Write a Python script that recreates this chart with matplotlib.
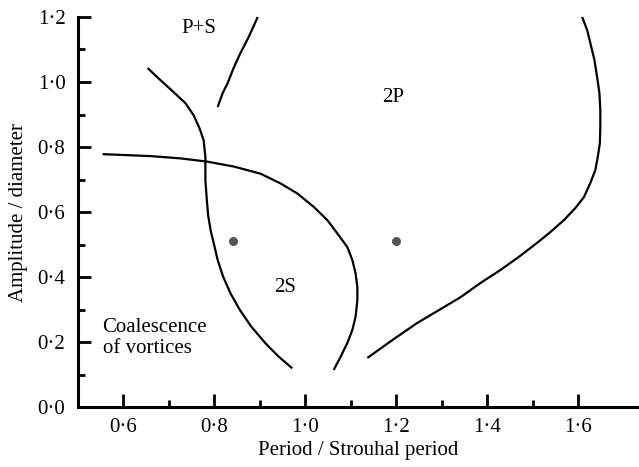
import matplotlib
matplotlib.use("Agg")
import matplotlib.pyplot as plt
from matplotlib.ticker import FixedLocator, FuncFormatter

plt.rcParams['font.family'] = ['Liberation Serif', 'DejaVu Serif']

# Boundary curves (period ratio, amplitude/diameter)
curve_a_x = [0.554, 0.659, 0.725, 0.784, 0.842, 0.901, 0.945, 0.982, 1.018, 1.048,
             1.070, 1.092, 1.103, 1.110, 1.114, 1.114, 1.110, 1.103, 1.092, 1.077, 1.062]
curve_a_y = [0.778, 0.772, 0.765, 0.755, 0.740, 0.718, 0.688, 0.657, 0.616, 0.575,
             0.534, 0.492, 0.452, 0.412, 0.369, 0.329, 0.277, 0.237, 0.197, 0.154, 0.114]

curve_b_x = [0.653, 0.681, 0.710, 0.736, 0.754, 0.767, 0.776, 0.780, 0.780, 0.783, 0.786,
             0.792, 0.799, 0.807, 0.819, 0.835, 0.856, 0.881, 0.912, 0.941, 0.971]
curve_b_y = [1.043, 1.006, 0.969, 0.935, 0.898, 0.858, 0.822, 0.769, 0.698, 0.640, 0.590,
             0.540, 0.500, 0.452, 0.401, 0.350, 0.298, 0.247, 0.196, 0.155, 0.119]

curve_c_x = [0.807, 0.818, 0.829, 0.842, 0.857, 0.875, 0.895]
curve_c_y = [0.923, 0.966, 0.997, 1.043, 1.089, 1.138, 1.200]

curve_d_x = [1.608, 1.619, 1.626, 1.635, 1.641, 1.646, 1.648, 1.648, 1.647, 1.642, 1.637,
             1.626, 1.612, 1.593, 1.568, 1.538, 1.509, 1.469, 1.429, 1.385, 1.341, 1.293,
             1.245, 1.191, 1.136]
curve_d_y = [1.200, 1.160, 1.120, 1.068, 1.015, 0.966, 0.914, 0.862, 0.812, 0.766, 0.729,
             0.689, 0.646, 0.612, 0.575, 0.538, 0.505, 0.462, 0.422, 0.382, 0.338, 0.298,
             0.258, 0.206, 0.151]

dots_x = [0.84, 1.2]
dots_y = [0.51, 0.51]

labels = ["P+S", "2P", "2S", "Coalescence\nof vortices"]
labels_x = [0.765, 1.193, 0.956, 0.554]
labels_y = [1.166, 0.951, 0.369, 0.212]

x_major = [0.6, 0.8, 1.0, 1.2, 1.4, 1.6]
x_minor = [0.7, 0.9, 1.1, 1.3, 1.5]
y_major = [0.0, 0.2, 0.4, 0.6, 0.8, 1.0, 1.2]
y_minor = [0.1, 0.3, 0.5, 0.7, 0.9, 1.1]

FS = 15

fig = plt.figure(figsize=(6.39, 4.67), dpi=100)
ax = fig.add_axes([78/639, 60/467, 561/639, 390/467])

lw = 1.6
for cx, cy in [(curve_a_x, curve_a_y), (curve_b_x, curve_b_y),
               (curve_c_x, curve_c_y), (curve_d_x, curve_d_y)]:
    ax.plot(cx, cy, color='black', lw=lw, solid_capstyle='butt',
            solid_joinstyle='round', clip_on=False)

ax.scatter(dots_x, dots_y, s=30, color='#555555', zorder=3)

for t, x, y in zip(labels, labels_x, labels_y):
    ha = 'left' if t.startswith('Coal') else 'center'
    ax.text(x, y, t, ha=ha, va='center', fontsize=FS, linespacing=1.1)

ax.set_xlim(0.5, 1.733)
ax.set_ylim(0.0, 1.2)
for s in ['top', 'right']:
    ax.spines[s].set_visible(False)
for s in ['left', 'bottom']:
    ax.spines[s].set_linewidth(2.2)

fmt = FuncFormatter(lambda v, p: ("%.1f" % v).replace('.', '\u00b7'))
ax.xaxis.set_major_locator(FixedLocator(x_major))
ax.xaxis.set_minor_locator(FixedLocator(x_minor))
ax.yaxis.set_major_locator(FixedLocator(y_major))
ax.yaxis.set_minor_locator(FixedLocator(y_minor))
ax.xaxis.set_major_formatter(fmt)
ax.yaxis.set_major_formatter(fmt)
ax.tick_params(which='major', direction='in', length=9.5, width=2, labelsize=FS)
ax.tick_params(which='minor', direction='in', length=5, width=2)
ax.tick_params(axis='x', which='major', pad=8)
ax.tick_params(axis='y', which='major', pad=9)

ax.set_xlabel("Period / Strouhal period", fontsize=FS, labelpad=3)
ax.set_ylabel("Amplitude / diameter", fontsize=FS, labelpad=7)

fig.savefig("out.png", dpi=100)
